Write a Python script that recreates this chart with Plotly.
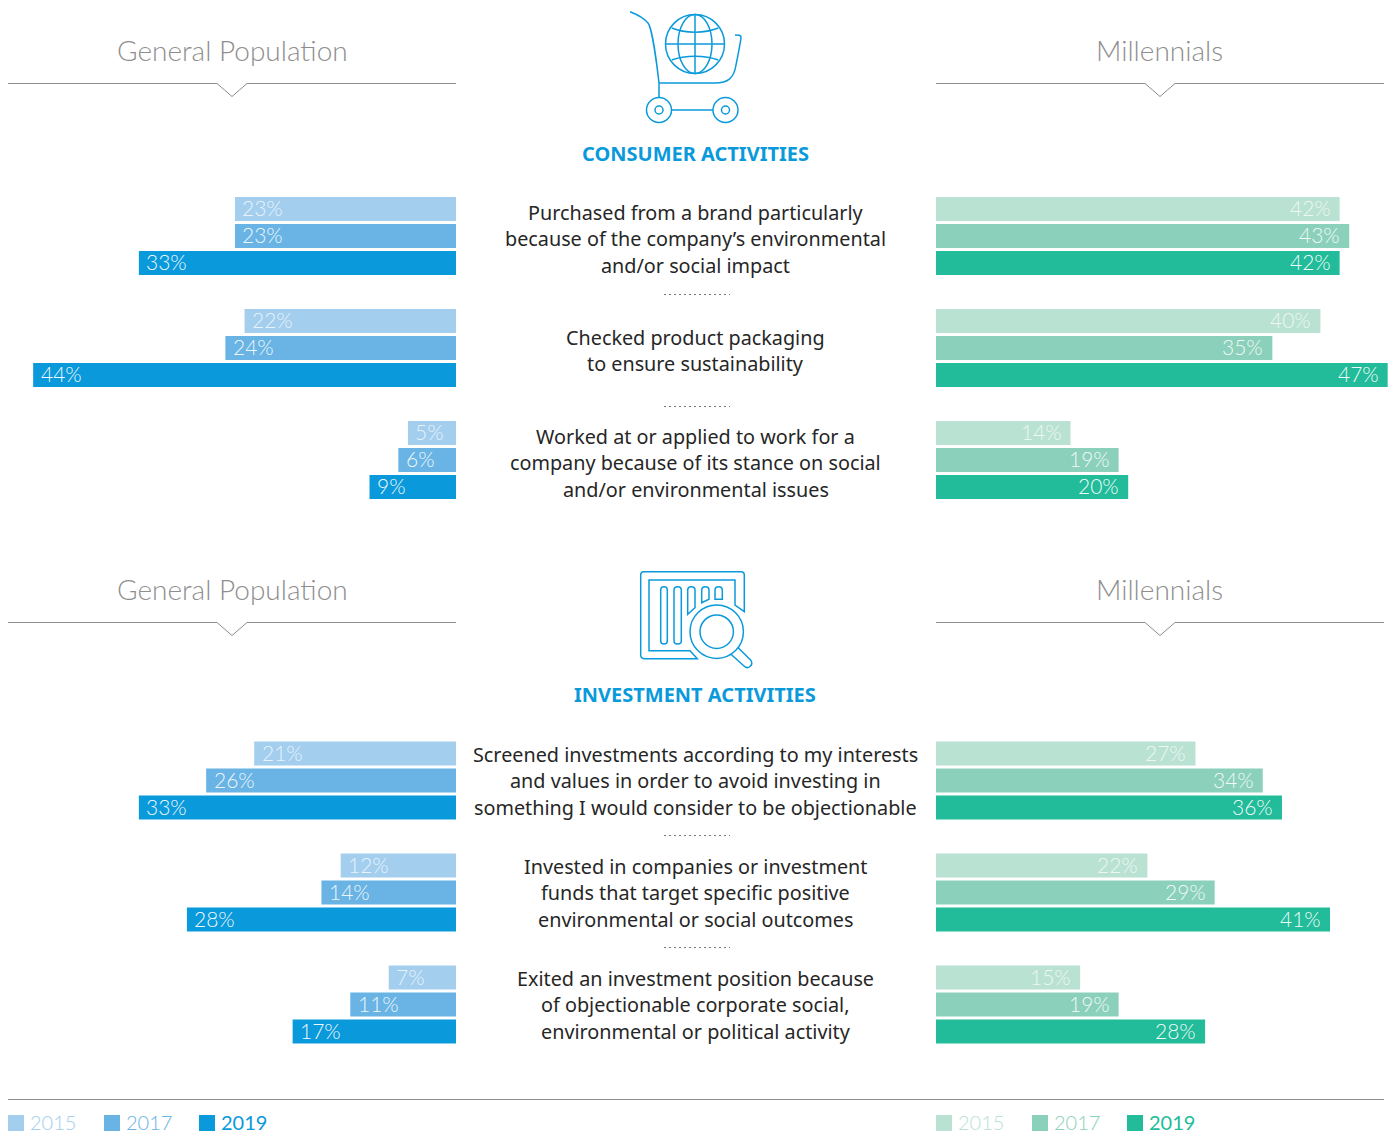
import plotly.graph_objects as go

# ---- data ----
YEARS = ["2015", "2017", "2019"]
CONSUMER_ROWS = [
    "Purchased from a brand particularly<br>because of the company’s environmental<br>and/or social impact",
    "Checked product packaging<br>to ensure sustainability",
    "Worked at or applied to work for a<br>company because of its stance on social<br>and/or environmental issues",
]
INVEST_ROWS = [
    "Screened investments according to my interests<br>and values in order to avoid investing in<br>something I would consider to be objectionable",
    "Invested in companies or investment<br>funds that target specific positive<br>environmental or social outcomes",
    "Exited an investment position because<br>of objectionable corporate social,<br>environmental or political activity",
]
GEN_CONSUMER = {"2015": [23, 22, 5], "2017": [23, 24, 6], "2019": [33, 44, 9]}
MIL_CONSUMER = {"2015": [42, 40, 14], "2017": [43, 35, 19], "2019": [42, 47, 20]}
GEN_INVEST = {"2015": [21, 12, 7], "2017": [26, 14, 11], "2019": [33, 28, 17]}
MIL_INVEST = {"2015": [27, 22, 15], "2017": [34, 29, 19], "2019": [36, 41, 28]}

BLUES = {"2015": "#A3CEEE", "2017": "#69B4E4", "2019": "#0A9ADB"}
GREENS = {"2015": "#B9E2D3", "2017": "#8BD0BA", "2019": "#23BC9A"}
TEXT_OP = {"2015": "rgba(255,255,255,0.75)", "2017": "rgba(255,255,255,0.9)", "2019": "rgba(255,255,255,0.95)"}

W, H = 1390, 1131
FONT = "Noto Sans"
LIGHT = "Lato"
fig = go.Figure()
anns = []


def add_bars(data, rows, colors, xa, ya, left):
    for i, yr in enumerate(YEARS):
        fig.add_trace(go.Bar(
            y=rows, x=data[yr], orientation="h", name=yr, xaxis=xa, yaxis=ya,
            marker=dict(color=colors[yr], line_width=0), cliponaxis=False,
            showlegend=False, hoverinfo="skip",
        ))
        for r, v in zip(rows, data[yr]):
            anns.append(dict(
                xref=xa, yref=ya, x=v, y=r, text=f"{v}%", showarrow=False,
                xanchor="left" if left else "right", yanchor="middle",
                xshift=5.5 if left else -7, yshift=(1 - i) * 27 + 1.5,
                font=dict(family=LIGHT, size=21, color=TEXT_OP[yr], weight=300),
            ))


add_bars(GEN_CONSUMER, CONSUMER_ROWS, BLUES, "x", "y", True)
add_bars(MIL_CONSUMER, CONSUMER_ROWS, GREENS, "x2", "y", False)
add_bars(GEN_INVEST, INVEST_ROWS, BLUES, "x", "y2", True)
add_bars(MIL_INVEST, INVEST_ROWS, GREENS, "x2", "y2", False)
# pixel overlay used only for decoration
fig.add_trace(go.Scatter(x=[None], y=[None], xaxis="x3", yaxis="y3", showlegend=False, hoverinfo="skip"))


def dom(a, b, size):
    return [a / size, b / size]


def ydom(top, bottom):
    return [1 - bottom / H, 1 - top / H]


PXU = 9.61
hidden = dict(visible=False, fixedrange=True)
layout = dict(
    width=W, height=H, margin=dict(l=0, r=0, t=0, b=0), autosize=False,
    paper_bgcolor="white", plot_bgcolor="rgba(0,0,0,0)",
    barmode="group", bargap=1 - 81 / 112, bargroupgap=3 / 27,
    xaxis=dict(domain=dom(8, 456, W), range=[448 / PXU, 0], anchor="y", **hidden),
    xaxis2=dict(domain=dom(936, 1390, W), range=[0, 454 / PXU], anchor="y", **hidden),
    yaxis=dict(domain=ydom(180, 516), autorange=False, range=[2.5, -0.5], type="category",
               categoryorder="array", categoryarray=CONSUMER_ROWS, anchor="x", **hidden),
    yaxis2=dict(domain=ydom(724.5, 1060.5), autorange=False, range=[2.5, -0.5], type="category",
                categoryorder="array", categoryarray=INVEST_ROWS, anchor="x", **hidden),
    xaxis3=dict(domain=[0, 1], range=[0, W], anchor="y3", **hidden),
    yaxis3=dict(domain=[0, 1], range=[H, 0], anchor="x3", **hidden),
)

shapes = []
ICON = "#0A9ADB"
RULE = "#8C8C8C"


def path(d, color=ICON, width=1.5, fill=None):
    s = dict(type="path", path=d, xref="x3", yref="y3", line=dict(color=color, width=width), layer="above")
    if fill:
        s["fillcolor"] = fill
    shapes.append(s)


def circle(cx, cy, r, rx=None, color=ICON, width=1.5):
    rx = rx or r
    shapes.append(dict(type="circle", xref="x3", yref="y3", x0=cx - rx, x1=cx + rx, y0=cy - r, y1=cy + r,
                       line=dict(color=color, width=width), layer="above"))


def text(x, y, t, size, color, family=FONT, anchor="center", weight=None):
    f = dict(family=family, size=size, color=color)
    if weight:
        f["weight"] = weight
    anns.append(dict(xref="x3", yref="y3", x=x, y=y, text=t, showarrow=False, font=f,
                     xanchor=anchor, yanchor="middle", align="center"))


# header rules and titles
for y in (83.5, 622.5):
    path(f"M8 {y} L217 {y} L232 {y+13} L247 {y} L456 {y}", RULE, 1)
    path(f"M936 {y} L1145 {y} L1160 {y+13} L1175 {y} L1384 {y}", RULE, 1)
for y in (50, 589):
    text(232, y, "General Population", 28, "#8E8E8E", LIGHT, weight=300)
    text(1159.5, y, "Millennials", 28, "#8E8E8E", LIGHT, weight=300)
text(695, 153, "CONSUMER ACTIVITIES", 20, ICON, "Noto Sans", weight=700)
text(695, 694, "INVESTMENT ACTIVITIES", 20, ICON, "Noto Sans", weight=700)

# row descriptions, tied to the category axes (one annotation per printed line)
LINE_PITCH = 26.5
for rows, ya, shift in ((CONSUMER_ROWS, "y", -2.7), (INVEST_ROWS, "y2", 0)):
    for r in rows:
        parts = r.split("<br>")
        for k, part in enumerate(parts):
            off = ((len(parts) - 1) / 2 - k) * LINE_PITCH
            anns.append(dict(xref="paper", yref=ya, x=695.5 / W, y=r, yshift=shift + off, text=part,
                             showarrow=False, font=dict(family=FONT, size=19.8, color="#262626"),
                             align="center", xanchor="center", yanchor="middle"))

# dotted separators
for y in (294.5, 406.5, 835.5, 947.5):
    shapes.append(dict(type="line", xref="x3", yref="y3", x0=664, x1=730, y0=y, y1=y, layer="above",
                       line=dict(color="#777777", width=1, dash="2px 3px")))

# cart icon
path("M630 11.7 C636 14 644 18 648 23 C652 28 657 65 659 83 V97")
path("M659 83 H715 C728 83 734 78 736 65 C738 55 741 40 741 37 C741 35 739 35 735 35")
path("M672 110 H713")
for cx in (659, 725.5):
    circle(cx, 110, 12.5)
    circle(cx, 110, 4)
circle(695, 44, 29.5)
circle(695, 44, 29.5, rx=17)
path("M695 14.5 V73.5")
path("M665.5 44 H724.5")
path("M671.7 28 C685 33.5 705 33.5 718.3 28")
path("M671.7 60 C685 55 705 55 718.3 60")

# report icon
path("M744.3 611.7 L735 605 V580 H649 V650.7 H690 L697.3 658.7 H645 Q640.7 658.7 640.7 655 V575 "
     "Q640.7 571.7 644 571.7 H741 Q744.3 571.7 744.3 575 Z")
for a, b in ((660.7, 667.3), (674, 681.3)):
    m = (a + b) / 2
    path(f"M{a} 590 Q{a} 586.7 {m} 586.7 Q{b} 586.7 {b} 590 V641 Q{b} 644 {m} 644 Q{a} 644 {a} 641 Z")
path("M687.7 614.3 V590 Q687.7 586.7 691.3 586.7 Q695 586.7 695 590 V607.7 Z")
path("M701.7 602.7 V590 Q701.7 586.7 705.3 586.7 Q709 586.7 709 590 V599.3 Z")
path("M715 599.3 V590 Q715 586.7 718.7 586.7 Q722.3 586.7 722.3 590 V599.3 Z")
circle(716.7, 631.7, 26.7)
circle(716.7, 631.7, 16.7)
path("M737.7 647.3 L751 660.5 Q753 664 750 666.5 Q747 669 744 666 L730.7 654")

# footer legend
path("M8 1099.5 H1384", RULE, 1)
for x0, cols in ((8, BLUES), (936, GREENS)):
    for dx, yr in zip((0, 96, 191), YEARS):
        shapes.append(dict(type="rect", xref="x3", yref="y3", x0=x0 + dx, x1=x0 + dx + 16, y0=1115, y1=1131,
                           fillcolor=cols[yr], line_width=0, layer="above"))
        text(x0 + dx + 20, 1122, yr, 20, cols[yr], LIGHT, anchor="left", weight=400 if yr == "2019" else 300)

fig.update_layout(**layout, shapes=shapes, annotations=anns)
fig.write_html("out.html", config={"displayModeBar": False},
               post_script="document.body.style.margin='0';document.body.style.overflow='hidden';")
